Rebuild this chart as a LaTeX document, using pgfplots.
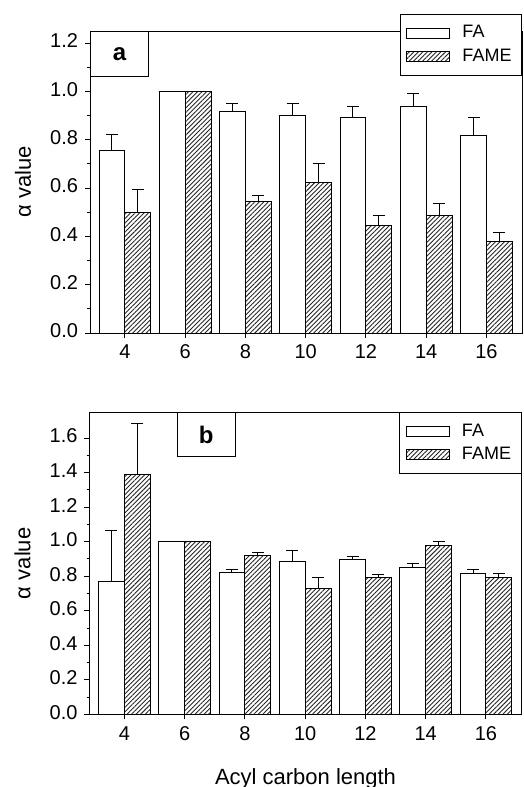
\documentclass[border=0pt]{standalone}
\usepackage{fontspec}
\setmainfont{Liberation Sans}
\usepackage{pgfplots}
\usepackage{pgfplotstable}
\pgfplotsset{compat=1.18}
\usetikzlibrary{patterns.meta}

% x  FA  FA+err  FAME  FAME+err
\pgfplotstableread{
x  fa     faerr  fame   fameerr
4  0.756  0.064  0.499  0.097
6  1.000  0.000  1.000  0.000
8  0.918  0.032  0.546  0.024
10 0.899  0.050  0.624  0.079
12 0.892  0.047  0.447  0.040
14 0.938  0.055  0.487  0.051
16 0.819  0.071  0.378  0.040
}\tblA
\pgfplotstableread{
x  fa     faerr  fame   fameerr
4  0.772  0.295  1.391  0.296
6  1.000  0.000  1.000  0.000
8  0.824  0.016  0.919  0.018
10 0.886  0.062  0.731  0.064
12 0.896  0.016  0.793  0.020
14 0.849  0.026  0.979  0.020
16 0.815  0.023  0.791  0.027
}\tblB

\pgfplotsset{
  panel/.style={
    scale only axis, width=216pt, height=151pt,
    anchor=north west,
    xmin=2.84, xmax=17.18, xtick={4,6,...,16},
    axis line style={line width=0.5pt},
    tick align=outside, xtick pos=bottom, ytick pos=left,
    major tick length=2.5pt, minor tick length=1.5pt,
    minor y tick num=1,
    tick style={black, line width=0.5pt},
    typeset ticklabels with strut,
    /pgf/number format/assume math mode=true,
    yticklabel style={/pgf/number format/.cd, fixed, fixed zerofill, precision=1},
    xticklabel style={yshift=1.5pt},
    tick label style={font=\fontsize{10}{12}\selectfont},
    every axis y label/.style={at={([xshift=-33.5pt]rel axis cs:0,0.5)}, rotate=90, anchor=center,
      font=\fontsize{11}{13}\selectfont},
    every axis x label/.style={at={([yshift=-32.5pt]rel axis cs:0.5,0)}, anchor=center,
      font=\fontsize{11}{13}\selectfont},
    ylabel={α value},
    legend cell align=left,
    legend style={draw=black, line width=0.5pt, fill=white,
      font=\fontsize{9}{10}\selectfont, inner xsep=3pt, inner ysep=3.5pt, row sep=0pt},
    error bars/y dir=plus, error bars/y explicit,
    error bars/error bar style={black, line width=0.5pt},
    error bars/error mark options={black, line width=0.5pt, mark size=3pt, rotate=90},
  },
  fabar/.style={ybar, bar width=0.86, bar shift=0, draw=black, line width=0.5pt, fill=white,
    legend image code/.code={\draw[draw=black, line width=0.5pt, fill=white] (0pt,-2.5pt) rectangle (21.5pt,2.5pt);
      \path (25.5pt,0pt);}},
  famebar/.style={ybar, bar width=0.86, bar shift=0, draw=black, line width=0.5pt,
    pattern={Lines[angle=45, distance=1.6pt, line width=0.45pt]}, pattern color=black!85,
    legend image code/.code={\draw[draw=black, line width=0.5pt,
      pattern={Lines[angle=45, distance=1.6pt, line width=0.45pt]}, pattern color=black!85] (0pt,-2.5pt) rectangle (21.5pt,2.5pt);
      \path (25.5pt,0pt);}},
}

\begin{document}
\begin{tikzpicture}
\path[use as bounding box] (0,0) rectangle (262pt,-393.5pt);

% panel a
\begin{axis}[panel, at={(45pt,-15.5pt)},
  ymin=0, ymax=1.25, ytick={0,0.2,0.4,0.6,0.8,1.0,1.2},
  legend style={at={(1,1.056)}, anchor=north east}]
\addplot[fabar] table[x expr=\thisrow{x}-0.43, y=fa, y error=faerr] {\tblA};
\addlegendentry{FA}
\addplot[famebar] table[x expr=\thisrow{x}+0.43, y=fame, y error=fameerr] {\tblA};
\addlegendentry{FAME}
\node[draw=black, line width=0.5pt, fill=white, anchor=north west, minimum width=29pt, minimum height=22.5pt,
  font=\fontsize{12}{14}\selectfont\bfseries] at (rel axis cs:0,1) {a};
\end{axis}

% panel b
\begin{axis}[panel, at={(44.75pt,-206.15pt)},
  ymin=0, ymax=1.75, ytick={0,0.2,0.4,0.6,0.8,1.0,1.2,1.4,1.6},
  xlabel={Acyl carbon length},
  legend style={at={(1,1)}, anchor=north east}]
\addplot[fabar] table[x expr=\thisrow{x}-0.43, y=fa, y error=faerr] {\tblB};
\addlegendentry{FA}
\addplot[famebar] table[x expr=\thisrow{x}+0.43, y=fame, y error=fameerr] {\tblB};
\addlegendentry{FAME}
\node[draw=black, line width=0.5pt, fill=white, anchor=north west, minimum width=29pt, minimum height=22pt,
  font=\fontsize{12}{14}\selectfont\bfseries] at (rel axis cs:0.202,1) {b};
\end{axis}
\end{tikzpicture}
\end{document}
